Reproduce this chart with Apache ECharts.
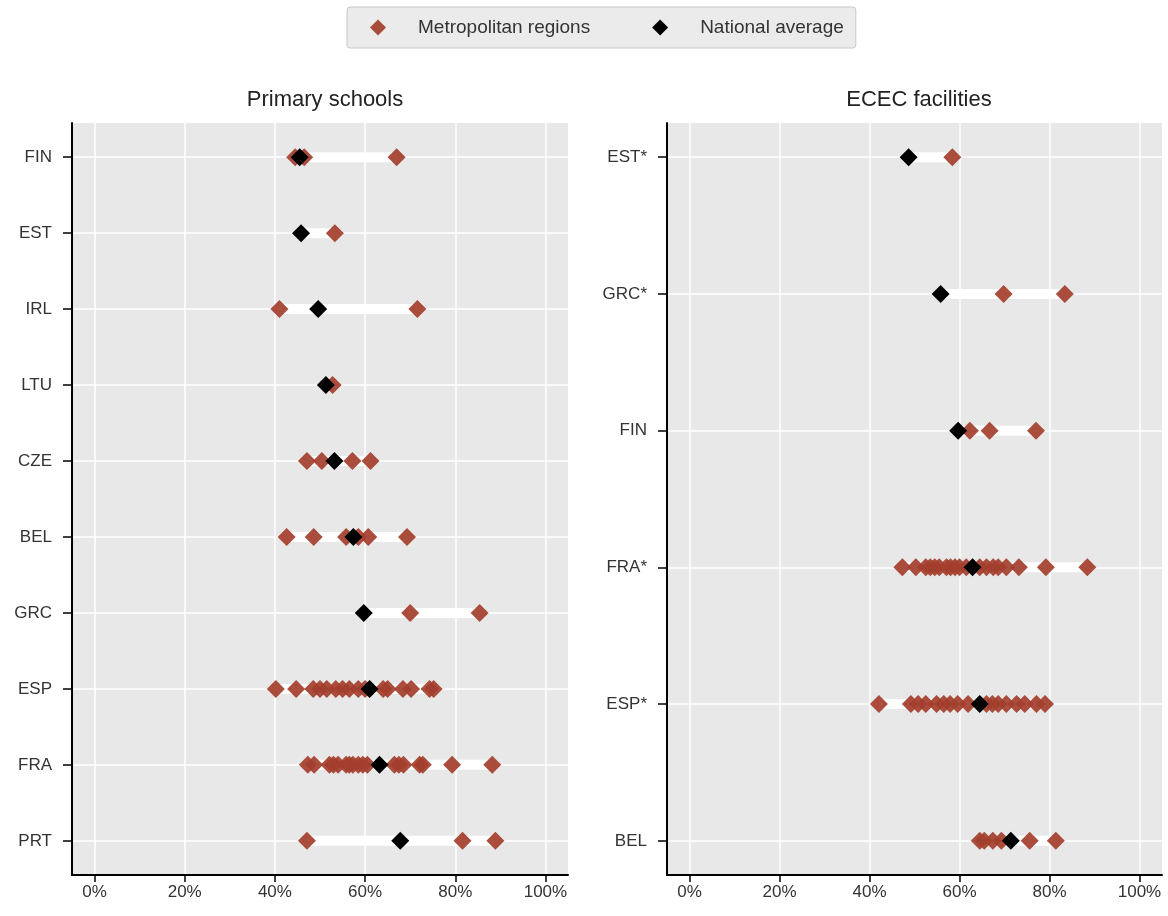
<!DOCTYPE html>
<html>
<head>
<meta charset="utf-8">
<script src="https://cdn.jsdelivr.net/npm/echarts@6/dist/echarts.min.js"></script>
<style>
  html, body { margin: 0; background: #fff; }
  #chart { width: 1168px; height: 916px; }
</style>
</head>
<body>
<div id="chart"></div>
<script>
  // Primary schools panel
  const schoolCountries = ['FIN', 'EST', 'IRL', 'LTU', 'CZE', 'BEL', 'GRC', 'ESP', 'FRA', 'PRT'];
  const schoolMetro = [
    [44.5, 46.5, 67],
    [53.3],
    [41, 71.6],
    [52.8],
    [47.1, 50.4, 57.2, 61.2],
    [42.6, 48.6, 55.8, 58.5, 60.7, 69.3],
    [70, 85.4],
    [40.2, 44.7, 48.5, 50, 51.5, 53.5, 55, 56.5, 58.5, 60, 64, 65, 68.4, 70.2, 74.3, 75.2],
    [47.3, 48.7, 52.1, 53, 54, 55.8, 56.5, 57.3, 58.5, 59.5, 60.5, 66.5, 67.5, 68.5, 72.1, 72.8, 79.3, 88.2],
    [47.1, 81.6, 88.9]
  ];
  const schoolNational = [45.5, 45.8, 49.6, 51.3, 53.2, 57.4, 59.7, 61, 63.2, 67.8];

  // ECEC facilities panel
  const ececCountries = ['EST*', 'GRC*', 'FIN', 'FRA*', 'ESP*', 'BEL'];
  const ececMetro = [
    [58.4],
    [69.8, 83.4],
    [62.3, 66.7, 77],
    [47.3, 50.3, 52.5, 53.5, 54.5, 55.5, 57.1, 58, 59, 60, 61.5, 64.5, 66, 67.5, 68.6, 70.4, 73.2, 79.2, 88.4],
    [42.1, 49.2, 50.8, 52.5, 54.9, 56.5, 57.9, 59.6, 61.9, 66, 67.3, 68.6, 70.4, 72.7, 74.5, 77.1, 79],
    [64.5, 65.5, 67.4, 69.3, 75.6, 81.4]
  ];
  const ececNational = [48.7, 55.8, 59.7, 62.9, 64.5, 71.4];

  const xTicks = [0, 20, 40, 60, 80, 100];

  const FONT = "'Liberation Sans', Arial, sans-serif";
  const RED = '#a33e2d';

  function metroPoints(metro) {
    return metro.flatMap((vals, i) => vals.map(v => [v, i]));
  }
  function natPoints(nat) {
    return nat.map((v, i) => [v, i]);
  }
  function ranges(metro, nat) {
    return metro.map((vals, i) => [Math.min(...vals, nat[i]), Math.max(...vals, nat[i]), i]);
  }

  // white bar from lowest to highest value in each row
  function renderRange(params, api) {
    const a = api.coord([api.value(0), api.value(2)]);
    const b = api.coord([api.value(1), api.value(2)]);
    return {
      type: 'rect',
      shape: { x: a[0], y: a[1] - 5, width: b[0] - a[0], height: 10 },
      style: { fill: '#fff' }
    };
  }

  function xAxis(idx) {
    return {
      type: 'value', gridIndex: idx, min: -5, max: 105,
      axisLine: { show: true, onZero: false, lineStyle: { color: '#000', width: 2 } },
      axisTick: { show: true, length: 7, customValues: xTicks, lineStyle: { color: '#000', width: 1.5 } },
      axisLabel: { customValues: xTicks, formatter: v => v + '%', fontSize: 17, color: '#333', margin: 9, fontFamily: FONT },
      splitLine: { show: true, lineStyle: { color: '#fff', width: 1.5 } }
    };
  }
  function yAxis(idx, cats) {
    const n = cats.length - 1;
    const pad = n * 0.05;
    const vals = cats.map((c, i) => i);
    return {
      type: 'value', gridIndex: idx, inverse: true, min: -pad, max: n + pad,
      axisLine: { show: true, onZero: false, lineStyle: { color: '#000', width: 2 } },
      axisTick: { show: true, length: 9, customValues: vals, lineStyle: { color: '#000', width: 1.5 } },
      axisLabel: { customValues: vals, formatter: v => cats[Math.round(v)], fontSize: 17, color: '#333', margin: 20, fontFamily: FONT },
      splitLine: { show: true, lineStyle: { color: '#fff', width: 1.5 } }
    };
  }

  const chart = echarts.init(document.getElementById('chart'));
  chart.setOption({
    animation: false,
    textStyle: { fontFamily: FONT },
    legend: {
      left: 347, top: 7,
      padding: [11, 12, 11, 23],
      itemWidth: 16, itemHeight: 16, itemGap: 62,
      icon: 'diamond',
      backgroundColor: '#ebebeb',
      borderColor: '#c8c8c8', borderWidth: 1, borderRadius: 3,
      textStyle: { fontSize: 19, color: '#333', padding: [0, 0, 0, 27], fontFamily: FONT },
      data: ['Metropolitan regions', 'National average']
    },
    title: [
      { text: 'Primary schools', left: 320, top: 84, textAlign: 'center',
        textStyle: { fontSize: 22, fontWeight: 'normal', color: '#222', fontFamily: FONT } },
      { text: 'ECEC facilities', left: 914, top: 84, textAlign: 'center',
        textStyle: { fontSize: 22, fontWeight: 'normal', color: '#222', fontFamily: FONT } }
    ],
    grid: [
      { left: 72, right: 600, top: 123, bottom: 41, show: true, backgroundColor: '#e8e8e8', borderWidth: 0 },
      { left: 667, right: 6, top: 123, bottom: 41, show: true, backgroundColor: '#e8e8e8', borderWidth: 0 }
    ],
    xAxis: [xAxis(0), xAxis(1)],
    yAxis: [yAxis(0, schoolCountries), yAxis(1, ececCountries)],
    series: [
      { type: 'custom', xAxisIndex: 0, yAxisIndex: 0, renderItem: renderRange, z: 1,
        encode: { x: [0, 1], y: 2 }, data: ranges(schoolMetro, schoolNational), silent: true },
      { type: 'custom', xAxisIndex: 1, yAxisIndex: 1, renderItem: renderRange, z: 1,
        encode: { x: [0, 1], y: 2 }, data: ranges(ececMetro, ececNational), silent: true },
      { name: 'Metropolitan regions', type: 'scatter', xAxisIndex: 0, yAxisIndex: 0, z: 2,
        symbol: 'diamond', symbolSize: 18, itemStyle: { color: RED, opacity: 0.92 },
        data: metroPoints(schoolMetro) },
      { name: 'Metropolitan regions', type: 'scatter', xAxisIndex: 1, yAxisIndex: 1, z: 2,
        symbol: 'diamond', symbolSize: 18, itemStyle: { color: RED, opacity: 0.92 },
        data: metroPoints(ececMetro) },
      { name: 'National average', type: 'scatter', xAxisIndex: 0, yAxisIndex: 0, z: 3,
        symbol: 'diamond', symbolSize: 18, itemStyle: { color: '#000', opacity: 1 },
        data: natPoints(schoolNational) },
      { name: 'National average', type: 'scatter', xAxisIndex: 1, yAxisIndex: 1, z: 3,
        symbol: 'diamond', symbolSize: 18, itemStyle: { color: '#000', opacity: 1 },
        data: natPoints(ececNational) }
    ]
  });
</script>
</body>
</html>
